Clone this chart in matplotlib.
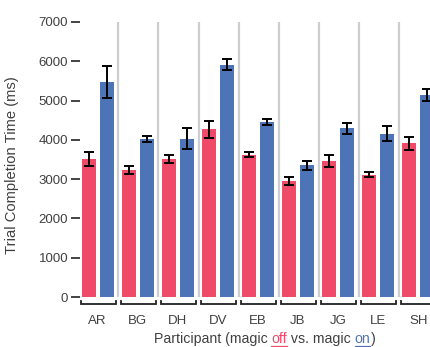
import matplotlib
matplotlib.use("Agg")
import matplotlib.pyplot as plt
from matplotlib.lines import Line2D
import numpy as np

participants = ["AR", "BG", "DH", "DV", "EB", "JB", "JG", "LE", "SH"]
magic_off = [3520, 3240, 3520, 4270, 3620, 2950, 3470, 3110, 3910]
magic_off_err = [180, 100, 100, 220, 65, 95, 150, 65, 160]
magic_on = [5480, 4020, 4030, 5910, 4460, 3350, 4290, 4160, 5140]
magic_on_err = [410, 85, 270, 140, 70, 120, 140, 190, 160]
yticks = [0, 1000, 2000, 3000, 4000, 5000, 6000, 7000]

RED = "#EF4A68"
BLUE = "#4E74B8"
GRAY_TXT = "#404040"
SEP = "#cdcdd2"
FONT = "Liberation Sans"
FS = 9.5
FS_Y = 10.6
FS_X = 10.2

W, H = 430, 347
fig = plt.figure(figsize=(W / 100, H / 100), dpi=100)
ax_left, ax_right, ax_top, ax_bot = 80, 440, 22, 297
ax = fig.add_axes([ax_left / W, (H - ax_bot) / H, (ax_right - ax_left) / W, (ax_bot - ax_top) / H])

gw = 40.1  # px per group
c0 = 97.5  # px center of first group
x = np.arange(len(participants))
off = 9 / gw
bw = 14 / gw

ax.bar(x - off, magic_off, width=bw, color=RED, zorder=2)
ax.bar(x + off, magic_on, width=bw, color=BLUE, zorder=2)
ekw = dict(fmt="none", ecolor="black", elinewidth=1.4, capsize=3.8, capthick=1.4, zorder=3)
ax.errorbar(x - off, magic_off, yerr=magic_off_err, **ekw)
ax.errorbar(x + off, magic_on, yerr=magic_on_err, **ekw)

# separators
for i in range(len(participants) - 1):
    ax.plot([i + 0.52, i + 0.52], [0, 7000], color=SEP, lw=1.6, zorder=1, solid_capstyle="butt")

# brackets
px = 7000 / (ax_bot - ax_top)
for i in range(len(participants)):
    l, r = i - 0.42, i + 0.45
    yb, yt = -7 * px, -3.5 * px
    ax.plot([l, l, r, r], [yt, yb, yb, yt], color="#222222", lw=1.3, clip_on=False,
            solid_joinstyle="miter")

ax.set_xlim((ax_left - c0) / gw, (ax_right - c0) / gw)
ax.set_ylim(0, 7000)
for s in ax.spines.values():
    s.set_visible(False)
ax.set_yticks(yticks)
ax.set_yticklabels([str(v) for v in yticks], fontfamily=FONT, fontsize=FS, color=GRAY_TXT)
ax.tick_params(axis="y", length=6.5, width=1.2, color="#222222", pad=2)
ax.set_xticks(x)
ax.set_xticklabels(participants, fontfamily=FONT, fontsize=FS, color=GRAY_TXT)
ax.tick_params(axis="x", length=0, pad=13)

fig.text(12 / W, (H - 165) / H, "Trial Completion Time (ms)", rotation=90, ha="center", va="center",
         fontfamily=FONT, fontsize=FS_Y, color=GRAY_TXT)

# multi-colored x label
pieces = [("Participant (magic ", GRAY_TXT, False), ("off", RED, True), (" vs. magic ", GRAY_TXT, False),
          ("on", BLUE, True), (")", GRAY_TXT, False)]
renderer = fig.canvas.get_renderer()

def width(s):
    t = fig.text(0, 0, s, fontfamily=FONT, fontsize=FS_X)
    w = t.get_window_extent(renderer).width
    t.remove()
    return w

full = "".join(p[0] for p in pieces)
total = width(full)
xc = 264.5
x0 = xc - total / 2
base_y = H - 343
wbar = width("|")
prefix = ""
for s, col, ul in pieces:
    xs = x0 + width(prefix + "|") - wbar if prefix else x0
    fig.text(xs / W, base_y / H, s, fontfamily=FONT, fontsize=FS_X, color=col, ha="left", va="baseline")
    if ul:
        ws = width(s)
        fig.add_artist(Line2D([xs / W, (xs + ws) / W], [(base_y - 2.5) / H, (base_y - 2.5) / H],
                              color=col, lw=0.9, transform=fig.transFigure))
    prefix += s

fig.savefig("out.png", dpi=100)
